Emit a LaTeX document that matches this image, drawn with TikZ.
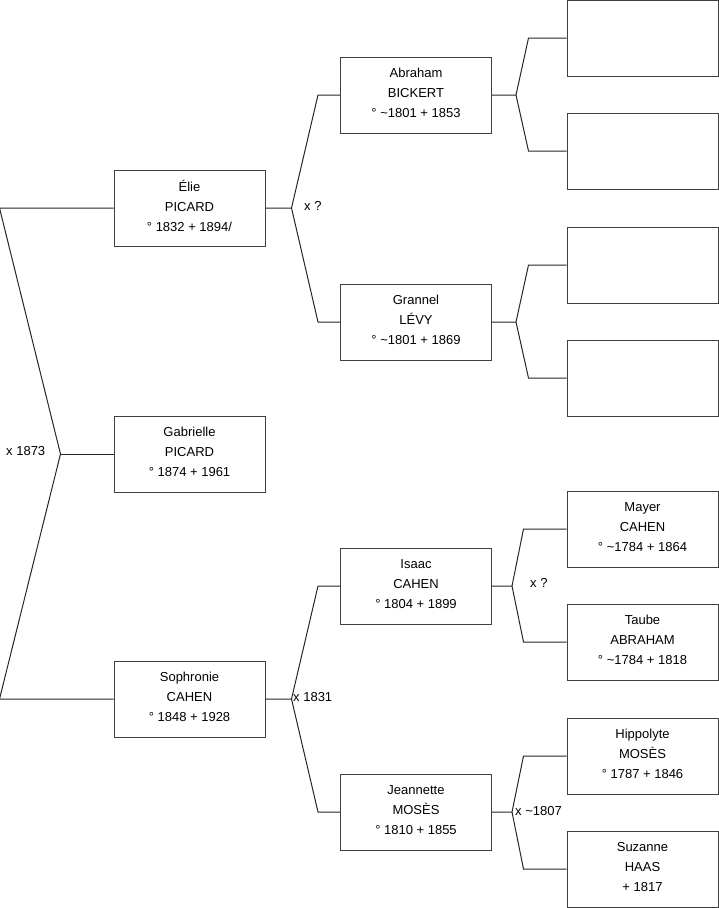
\documentclass[tikz,border=0pt]{standalone}
\usepackage{fontspec}
\setmainfont{Liberation Sans}
\begin{document}
\begin{tikzpicture}[x=1pt,y=-1pt,
  person/.style={draw=black!75,line width=1pt,fill=white,minimum width=151pt,minimum height=76pt,inner sep=0pt,
    label={[txt]center:#1}},
  txt/.style={align=center,inner sep=0pt,yshift=2pt,font=\fontsize{13}{20}\selectfont},
  conn/.style={draw=black!85,line width=1pt},
  lbl/.style={font=\fontsize{13}{15}\selectfont,inner sep=0pt}]
\useasboundingbox (0,0) rectangle (719,908);
% left column
\node[person={Élie\\PICARD\\° 1832 + 1894/}] (elie) at (189.5,208) {};
\node[person={Gabrielle\\PICARD\\° 1874 + 1961}] (gabrielle) at (189.5,454) {};
\node[person={Sophronie\\CAHEN\\° 1848 + 1928}] (sophronie) at (189.5,699) {};
% middle column
\node[person={Abraham\\BICKERT\\° \textasciitilde1801 + 1853}] (abraham) at (416,95) {};
\node[person={Grannel\\LÉVY\\° \textasciitilde1801 + 1869}] (grannel) at (416,322) {};
\node[person={Isaac\\CAHEN\\° 1804 + 1899}] (isaac) at (416,586) {};
\node[person={Jeannette\\MOSÈS\\° 1810 + 1855}] (jeannette) at (416,812) {};
% right column
\node[person={}] (r1) at (642.5,38) {};
\node[person={}] (r2) at (642.5,151) {};
\node[person={}] (r3) at (642.5,265) {};
\node[person={}] (r4) at (642.5,378) {};
\node[person={Mayer\\CAHEN\\° \textasciitilde1784 + 1864}] (mayer) at (642.5,529) {};
\node[person={Taube\\ABRAHAM\\° \textasciitilde1784 + 1818}] (taube) at (642.5,642) {};
\node[person={Hippolyte\\MOSÈS\\° 1787 + 1846}] (hippolyte) at (642.5,756) {};
\node[person={Suzanne\\HAAS\\+ 1817}] (suzanne) at (642.5,869) {};
% vertices
\coordinate (v0) at ([xshift=-53pt]gabrielle.west);
\coordinate (v1) at ([xshift=26pt]elie.east);
\coordinate (v2) at ([xshift=26pt]sophronie.east);
\coordinate (v3) at ([xshift=24pt]abraham.east);
\coordinate (v4) at ([xshift=24pt]grannel.east);
\coordinate (v5) at ([xshift=20pt]isaac.east);
\coordinate (v6) at ([xshift=20pt]jeannette.east);
% connectors
\draw[conn] (elie.west) -- ([xshift=-114pt]elie.west) -- (v0) -- ([xshift=-114pt]sophronie.west) -- (sophronie.west);
\draw[conn] (v0) -- (gabrielle.west);
\draw[conn] (elie.east) -- (v1) -- ([xshift=-22pt]abraham.west) -- (abraham.west);
\draw[conn] (v1) -- ([xshift=-22pt]grannel.west) -- (grannel.west);
\draw[conn] (sophronie.east) -- (v2) -- ([xshift=-22pt]isaac.west) -- (isaac.west);
\draw[conn] (v2) -- ([xshift=-22pt]jeannette.west) -- (jeannette.west);
\draw[conn] (abraham.east) -- (v3) -- ([xshift=-38pt]r1.west) -- (r1.west);
\draw[conn] (v3) -- ([xshift=-38pt]r2.west) -- (r2.west);
\draw[conn] (grannel.east) -- (v4) -- ([xshift=-38pt]r3.west) -- (r3.west);
\draw[conn] (v4) -- ([xshift=-38pt]r4.west) -- (r4.west);
\draw[conn] (isaac.east) -- (v5) -- ([xshift=-43pt]mayer.west) -- (mayer.west);
\draw[conn] (v5) -- ([xshift=-43pt]taube.west) -- (taube.west);
\draw[conn] (jeannette.east) -- (v6) -- ([xshift=-43pt]hippolyte.west) -- (hippolyte.west);
\draw[conn] (v6) -- ([xshift=-43pt]suzanne.west) -- (suzanne.west);
% labels
\node[lbl,anchor=west] (l0) at (6,451) {x 1873};
\node[lbl,anchor=west] (l1) at (304,206) {x ?};
\node[lbl,anchor=west] (l2) at (293,697) {x 1831};
\node[lbl,anchor=west] (l3) at (530,583) {x ?};
\node[lbl,anchor=west] (l4) at (515,811) {x \textasciitilde1807};
\end{tikzpicture}
\end{document}
